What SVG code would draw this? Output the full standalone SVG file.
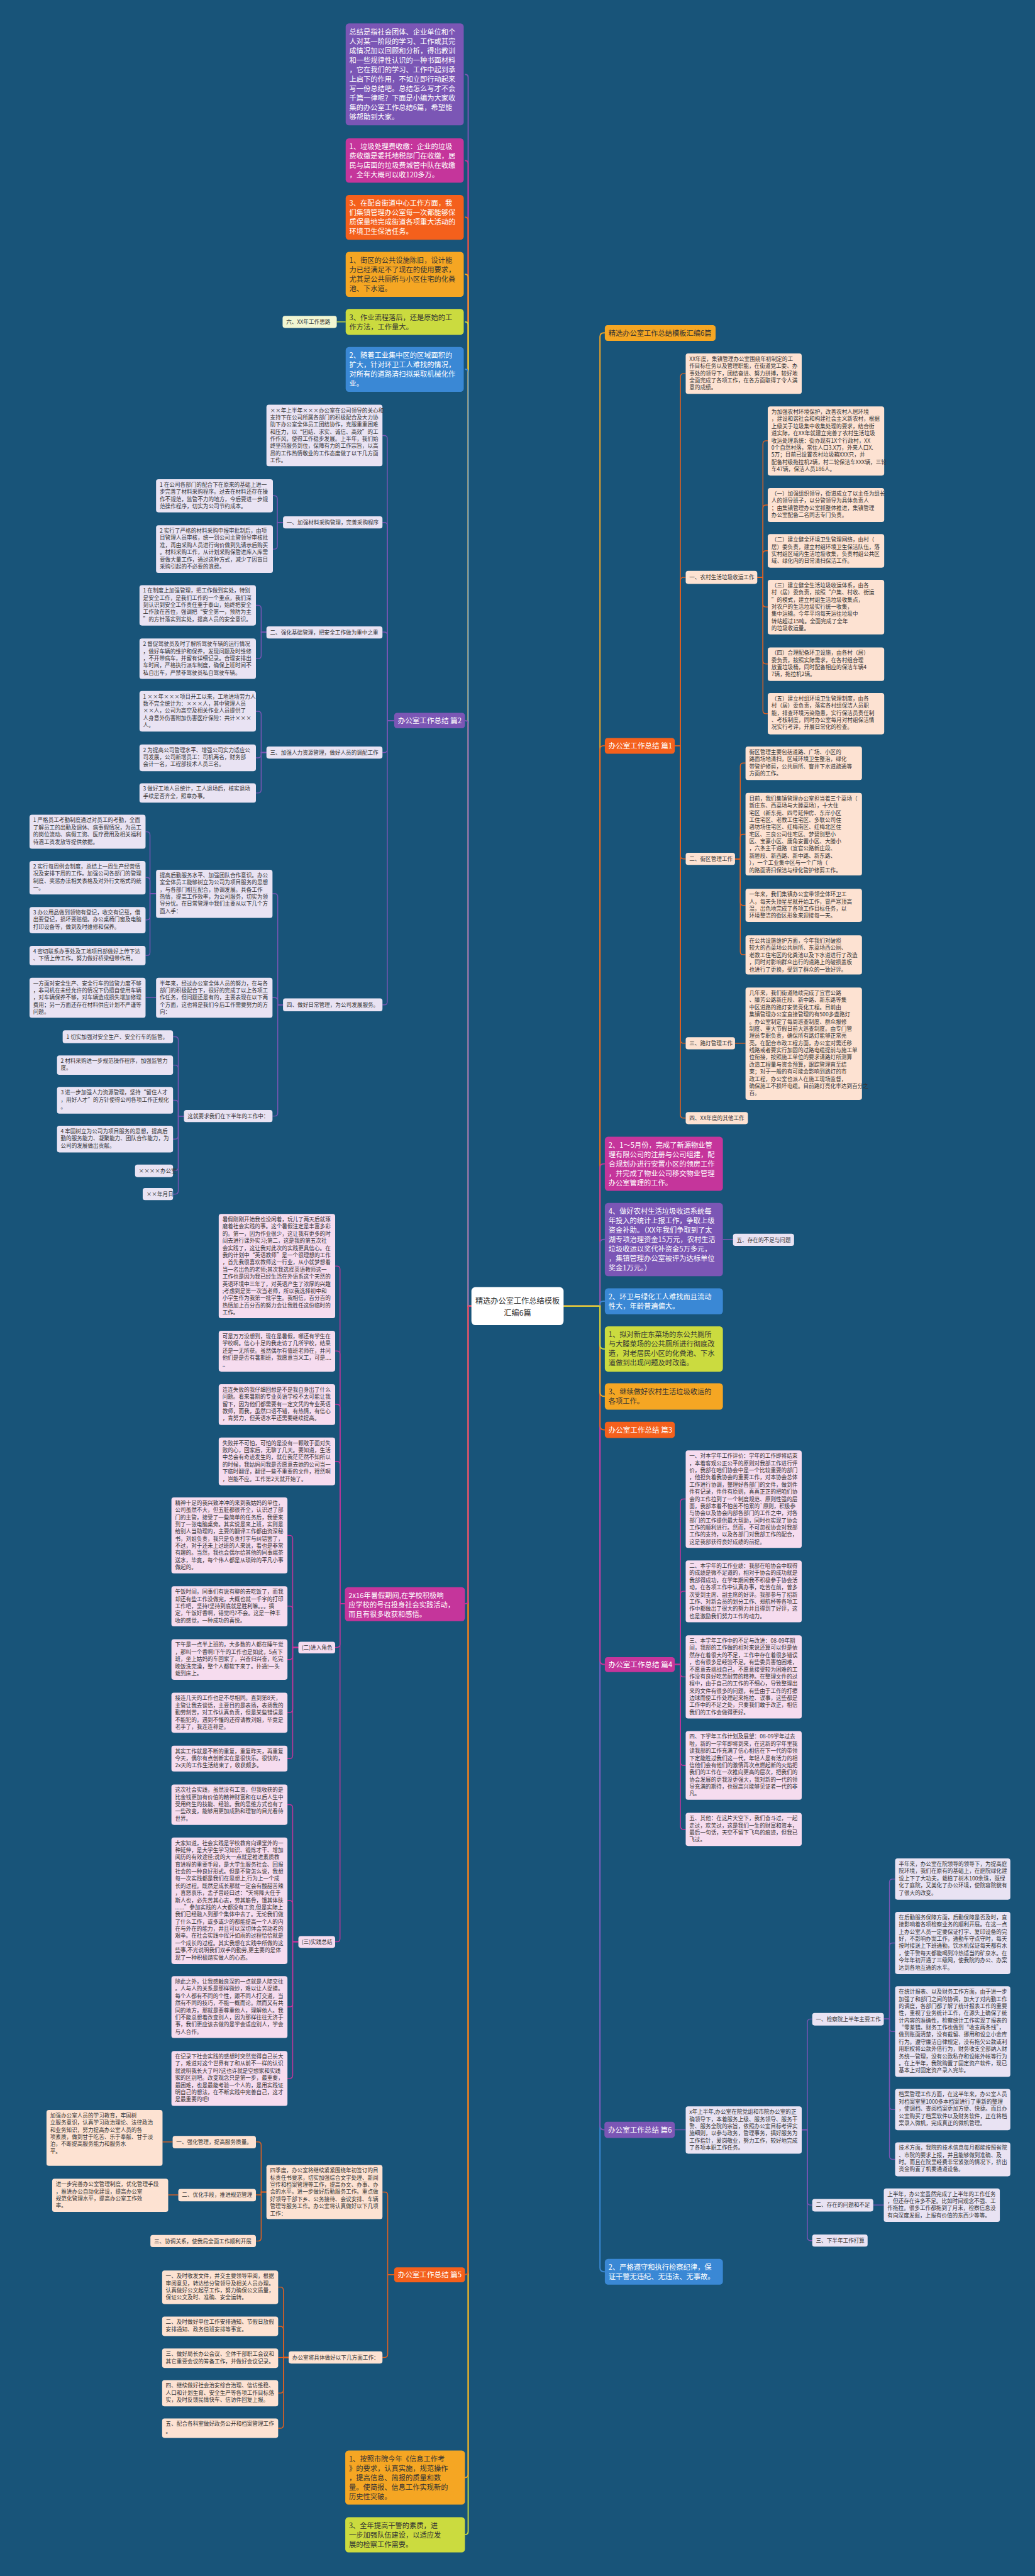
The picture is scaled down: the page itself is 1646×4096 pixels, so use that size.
<svg xmlns="http://www.w3.org/2000/svg" width="1646" height="4096" viewBox="0 0 1646 4096">
<style>
text{font-family:"Noto Sans CJK SC","Noto Sans","Liberation Sans",sans-serif}
.b{font-size:17.5px;fill:#fff}
.bd{font-size:17.5px;fill:#333}
.s{font-size:13.4px;fill:#333}
.h{font-size:18px;fill:#fff}
.r{font-size:19px;fill:#333}
.e{fill:none;stroke-width:2.2}
.E{fill:none;stroke-width:3}
.cp{stroke:#7b56b5}.cm{stroke:#c5359b}.co{stroke:#e8611e}.cy{stroke:#f5a623}.cg{stroke:#c9da3d}.cb{stroke:#3a88d5}
.fp{fill:#7b56b5}.fm{fill:#c5359b}.fo{fill:#f4601c}.fy{fill:#f5a623}.fg{fill:#cbdb3f}.fb{fill:#3a88d5}
.lp{fill:#e9e3f3}.lm{fill:#f6dcef}.lo{fill:#fde2d2}.lg{fill:#f1f6d2}
</style>
<rect width="1646" height="4096" fill="#185479"/>
<g transform="scale(0.64297)">
<g id="connectors">
<path class="E cp" d="M1166 3230H1158V192Q1158 184 1150 184"/>
<path class="E cm" d="M1166 3230H1158V405Q1158 397 1150 397"/>
<path class="E co" d="M1166 3230H1158V545Q1158 537 1150 537"/>
<path class="E cy" d="M1166 3230H1158V686Q1158 678 1150 678"/>
<path class="E cg" d="M1166 3230H1158V804Q1158 796 1150 796"/>
<path class="E cb" d="M1166 3230H1158V921Q1158 913 1150 913"/>
<path class="E cp" d="M1166 3230H1158V1790Q1158 1782 1150 1782"/>
<path class="E cg" d="M1166 3230H1158V6260Q1158 6268 1150 6268"/>
<path class="E cy" d="M1166 3230H1158V6119Q1158 6127 1150 6127"/>
<path class="E co" d="M1166 3230H1158V5617Q1158 5625 1150 5625"/>
<path class="E cm" d="M1166 3230H1158V3958Q1158 3966 1150 3966"/>
<path class="E cy" d="M1394 3230H1484V833Q1484 823 1494 823H1496"/>
<path class="E co" d="M1394 3230H1484V1854Q1484 1844 1494 1844H1496"/>
<path class="E cm" d="M1394 3230H1484V2888Q1484 2878 1494 2878H1496"/>
<path class="E cp" d="M1394 3230H1484V3075Q1484 3065 1494 3065H1496"/>
<path class="E cb" d="M1394 3230H1484V3226Q1484 3218 1492 3218H1496"/>
<path class="E cb" d="M1394 3230H1484V5608Q1484 5618 1494 5618H1496"/>
<path class="E cp" d="M1394 3230H1484V5257Q1484 5267 1494 5267H1496"/>
<path class="E cm" d="M1394 3230H1484V4106Q1484 4116 1494 4116H1496"/>
<path class="E co" d="M1394 3230H1484V3526Q1484 3536 1494 3536H1496"/>
<path class="E cy" d="M1394 3230H1484V3443Q1484 3453 1494 3453H1496"/>
<path class="E cg" d="M1394 3230H1484V3326Q1484 3336 1494 3336H1496"/>
<path class="e cg" d="M855 796H833"/>
<path class="e cp" d="M1788 3065H1813"/>
<g class="e cp">
<path d="M975 1782H958V1085Q958 1077 950 1077H946"/>
<path d="M975 1782H958V1300Q958 1292 950 1292H946"/>
<path d="M975 1782H958V1571Q958 1563 950 1563H946"/>
<path d="M975 1782H958V1853Q958 1861 950 1861H946"/>
<path d="M975 1782H958V2477Q958 2485 950 2485H946"/>
<path d="M700 1292H686V1234Q686 1226 678 1226H675"/>
<path d="M700 1292H686V1350Q686 1358 678 1358H675"/>
<path d="M659 1563H646V1505Q646 1497 638 1497H633"/>
<path d="M659 1563H646V1621Q646 1629 638 1629H633"/>
<path d="M659 1861H646V1767Q646 1759 638 1759H633"/>
<path d="M659 1861H646V1866Q646 1874 638 1874H633"/>
<path d="M659 1861H646V1953Q646 1961 638 1961H633"/>
<path d="M700 2485H687V2218Q687 2210 679 2210H674"/>
<path d="M700 2485H687V2475Q687 2467 679 2467H674"/>
<path d="M700 2485H687V2752Q687 2760 679 2760H674"/>
<path d="M386 2210H371V2065Q371 2057 363 2057H360"/>
<path d="M386 2210H371V2178Q371 2170 363 2170H360"/>
<path d="M386 2210H371V2267Q371 2275 363 2275H360"/>
<path d="M386 2210H371V2355Q371 2363 363 2363H360"/>
<path d="M386 2467H360"/>
<path d="M455 2760H441V2572Q441 2564 433 2564H428"/>
<path d="M455 2760H441V2642Q441 2634 433 2634H428"/>
<path d="M455 2760H441V2729Q441 2721 433 2721H428"/>
<path d="M455 2760H441V2809Q441 2817 433 2817H428"/>
<path d="M455 2760H441V2887Q441 2895 433 2895H428"/>
<path d="M455 2760H441V2945Q441 2953 433 2953H428"/>
</g>
<g class="e cm">
<path d="M853 3966H841V3139Q841 3131 833 3131H829"/>
<path d="M853 3966H841V3349Q841 3341 833 3341H829"/>
<path d="M853 3966H841V3481Q841 3473 833 3473H829"/>
<path d="M853 3966H841V3622Q841 3614 833 3614H829"/>
<path d="M853 3966H841V4066Q841 4074 833 4074H829"/>
<path d="M853 3966H841V4794Q841 4802 833 4802H829"/>
<path d="M738 4074H724V3805Q724 3797 716 3797H711"/>
<path d="M738 4074H724V3980Q724 3972 716 3972H711"/>
<path d="M738 4074H724V4096Q724 4104 716 4104H711"/>
<path d="M738 4074H724V4227Q724 4235 716 4235H711"/>
<path d="M738 4074H724V4341Q724 4349 716 4349H711"/>
<path d="M738 4802H724V4471Q724 4463 716 4463H711"/>
<path d="M738 4802H724V4708Q724 4700 716 4700H711"/>
<path d="M738 4802H724V4955Q724 4963 716 4963H711"/>
<path d="M738 4802H724V5132Q724 5140 716 5140H711"/>
</g>
<g class="e co">
<path d="M975 5625H959V5429Q959 5421 951 5421H946"/>
<path d="M975 5625H959V5822Q959 5830 951 5830H946"/>
<path d="M659 5421H646V5305Q646 5297 638 5297H633"/>
<path d="M659 5421H646V5428H633"/>
<path d="M659 5421H646V5534Q646 5542 638 5542H633"/>
<path d="M427 5297H402"/>
<path d="M441 5428H416"/>
<path d="M714 5830H701V5664Q701 5656 693 5656H688"/>
<path d="M714 5830H701V5761Q701 5753 693 5753H688"/>
<path d="M714 5830H688"/>
<path d="M714 5830H701V5910Q701 5918 693 5918H688"/>
<path d="M714 5830H701V5997Q701 6005 693 6005H688"/>
</g>
<g class="e co">
<path d="M1669 1844H1683V932Q1683 924 1691 924H1696"/>
<path d="M1669 1844H1683V1436Q1683 1428 1691 1428H1696"/>
<path d="M1669 1844H1683V2116Q1683 2124 1691 2124H1696"/>
<path d="M1669 1844H1683V2572Q1683 2580 1691 2580H1696"/>
<path d="M1669 1844H1683V2757Q1683 2765 1691 2765H1696"/>
<path d="M1873 1428H1887V1098Q1887 1090 1895 1090H1899"/>
<path d="M1873 1428H1887V1257Q1887 1249 1895 1249H1899"/>
<path d="M1873 1428H1887V1370Q1887 1362 1895 1362H1899"/>
<path d="M1873 1428H1887V1493Q1887 1501 1895 1501H1899"/>
<path d="M1873 1428H1887V1634Q1887 1642 1895 1642H1899"/>
<path d="M1873 1428H1887V1757Q1887 1765 1895 1765H1899"/>
<path d="M1818 2124H1831V1895Q1831 1887 1839 1887H1844"/>
<path d="M1818 2124H1831V2071Q1831 2063 1839 2063H1844"/>
<path d="M1818 2124H1831V2231Q1831 2239 1839 2239H1844"/>
<path d="M1818 2124H1831V2353Q1831 2361 1839 2361H1844"/>
<path d="M1818 2580H1844"/>
</g>
<g class="e cm">
<path d="M1669 4116H1683V3715Q1683 3707 1691 3707H1696"/>
<path d="M1669 4116H1683V3943Q1683 3935 1691 3935H1696"/>
<path d="M1669 4116H1683V4139Q1683 4147 1691 4147H1696"/>
<path d="M1669 4116H1683V4358Q1683 4366 1691 4366H1696"/>
<path d="M1669 4116H1683V4516Q1683 4524 1691 4524H1696"/>
</g>
<g class="e cp">
<path d="M1669 5267H1696"/>
<path d="M1983 5267H1997V5001Q1997 4993 2005 4993H2009"/>
<path d="M1983 5267H1997V5445Q1997 5453 2005 5453H2009"/>
<path d="M1983 5267H1997V5533Q1997 5541 2005 5541H2009"/>
<path d="M2186 4993H2200V4655Q2200 4647 2208 4647H2214"/>
<path d="M2186 4993H2200V4813Q2200 4805 2208 4805H2214"/>
<path d="M2186 4993H2200V5016Q2200 5024 2208 5024H2214"/>
<path d="M2186 4993H2200V5209Q2200 5217 2208 5217H2214"/>
<path d="M2186 4993H2200V5332Q2200 5340 2208 5340H2214"/>
<path d="M2160 5453H2186"/>
</g>
</g>

<g id="root"><rect x="1166" y="3183" width="228" height="94" rx="10" fill="#fff"/>
<text class="r" text-anchor="middle"><tspan x="1280" y="3224">精选办公室工作总结模板</tspan><tspan x="1280" y="3253">汇编6篇</tspan></text></g>

<g id="L1"><rect class="fp" x="855" y="58" width="292" height="252" rx="8"/>
<text class="b"><tspan x="864" y="85">总结是指社会团体、企业单位和个</tspan><tspan x="864" dy="23.4">人对某一阶段的学习、工作或其完</tspan><tspan x="864" dy="23.4">成情况加以回顾和分析，得出教训</tspan><tspan x="864" dy="23.4">和一些规律性认识的一种书面材料</tspan><tspan x="864" dy="23.4">，它在我们的学习、工作中起到承</tspan><tspan x="864" dy="23.4">上启下的作用，不如立即行动起来</tspan><tspan x="864" dy="23.4">写一份总结吧。总结怎么写才不会</tspan><tspan x="864" dy="23.4">千篇一律呢？下面是小编为大家收</tspan><tspan x="864" dy="23.4">集的办公室工作总结6篇，希望能</tspan><tspan x="864" dy="23.4">够帮助到大家。</tspan></text></g>
<g id="L2"><rect class="fm" x="855" y="342" width="292" height="110" rx="8"/>
<text class="b"><tspan x="864" y="369">1、垃圾处理费收缴：企业的垃圾</tspan><tspan x="864" dy="23.4">费收缴是委托地税部门在收缴，居</tspan><tspan x="864" dy="23.4">民与店面的垃圾费城管中队在收缴</tspan><tspan x="864" dy="23.4">，全年大概可以收120多万。</tspan></text></g>
<g id="L3"><rect class="fo" x="855" y="482" width="292" height="111" rx="8"/>
<text class="b"><tspan x="864" y="509">3、在配合街道中心工作方面，我</tspan><tspan x="864" dy="23.4">们集镇管理办公室每一次都能够保</tspan><tspan x="864" dy="23.4">质保量地完成街道各项重大活动的</tspan><tspan x="864" dy="23.4">环境卫生保洁任务。</tspan></text></g>
<g id="L4"><rect class="fy" x="855" y="623" width="292" height="111" rx="8"/>
<text class="bd"><tspan x="864" y="650">1、街区的公共设施陈旧，设计能</tspan><tspan x="864" dy="23.4">力已经满足不了现在的使用要求，</tspan><tspan x="864" dy="23.4">尤其是公共厕所与小区住宅的化粪</tspan><tspan x="864" dy="23.4">池、下水道。</tspan></text></g>
<g id="L5"><rect class="fg" x="855" y="764" width="292" height="64" rx="8"/>
<text class="bd"><tspan x="864" y="791">3、作业流程落后，还是原始的工</tspan><tspan x="864" dy="23.4">作方法，工作量大。</tspan></text></g>
<g id="L5c"><rect class="lg" x="699" y="781" width="134" height="30" rx="6"/>
<text class="s"><tspan x="708" y="801">六、XX年工作思路</tspan></text></g>
<g id="L6"><rect class="fb" x="855" y="858" width="292" height="111" rx="8"/>
<text class="b"><tspan x="864" y="885">2、随着工业集中区的区域面积的</tspan><tspan x="864" dy="23.4">扩大，针对环卫工人难找的情况，</tspan><tspan x="864" dy="23.4">对所有的道路清扫拟采取机械化作</tspan><tspan x="864" dy="23.4">业。</tspan></text></g>

<g id="p2"><rect class="fp" x="975" y="1763" width="175" height="38" rx="7"/>
<text class="h"><tspan x="984" y="1789">办公室工作总结 篇2</tspan></text></g>
<g id="p2a"><rect class="lp" x="659" y="1001" width="287" height="152" rx="6"/>
<text class="s"><tspan x="668" y="1019.5">××年上半年×××办公室在公司领导的关心和</tspan><tspan x="668" dy="17.7">支持下在公司所属各部门的积极配合及大力协</tspan><tspan x="668" dy="17.7">助下办公室全体员工团结协作，克服重重困难</tspan><tspan x="668" dy="17.7">和压力，以“团结、求实、诚信、高效”的工</tspan><tspan x="668" dy="17.7">作作风，使得工作稳步发展。上半年，我们始</tspan><tspan x="668" dy="17.7">终坚持服务到位，保障有力的工作宗旨，以高</tspan><tspan x="668" dy="17.7">昂的工作热情敬业的工作态度做了以下几方面</tspan><tspan x="668" dy="17.7">工作。</tspan></text></g>
<g id="p2-1"><rect class="lp" x="700" y="1277" width="246" height="30" rx="6"/>
<text class="s"><tspan x="709" y="1297">一、加强材料采购管理，完善采购程序</tspan></text></g>
<g id="p2-1a"><rect class="lp" x="386" y="1185" width="289" height="82" rx="6"/>
<text class="s"><tspan x="395" y="1203.5">1 在公司各部门的配合下在原来的基础上进一</tspan><tspan x="395" dy="17.7">步完善了材料采购程序。过去在材料还存在操</tspan><tspan x="395" dy="17.7">作不规范，监管不力的地方，今后要进一步规</tspan><tspan x="395" dy="17.7">范操作程序，切实为公司节约成本。</tspan></text></g>
<g id="p2-1b"><rect class="lp" x="386" y="1299" width="289" height="118" rx="6"/>
<text class="s"><tspan x="395" y="1317.5">2 实行了严格的材料采购申报审批制后，由项</tspan><tspan x="395" dy="17.7">目管理人员审核，统一到公司主管领导审核批</tspan><tspan x="395" dy="17.7">准，再由采购人员进行询价做到先请示后购买</tspan><tspan x="395" dy="17.7">。材料采购工作，从计划采购保管进库入库需</tspan><tspan x="395" dy="17.7">要做大量工作，通过这种方式，减少了因盲目</tspan><tspan x="395" dy="17.7">采购引起的不必要的浪费。</tspan></text></g>
<g id="p2-2"><rect class="lp" x="659" y="1549" width="287" height="30" rx="6"/>
<text class="s"><tspan x="668" y="1569">二、强化基础管理，把安全工作做为重中之重</tspan></text></g>
<g id="p2-2a"><rect class="lp" x="345" y="1447" width="288" height="100" rx="6"/>
<text class="s"><tspan x="354" y="1465.5">1 在制度上加强管理，把工作做到实处，特别</tspan><tspan x="354" dy="17.7">是安全工作，是我们工作的一个重点，我们深</tspan><tspan x="354" dy="17.7">刻认识到安全工作责任重于泰山，始终把安全</tspan><tspan x="354" dy="17.7">工作放在首位，强调把“安全第一，预防为主</tspan><tspan x="354" dy="17.7">”的方针落实到实处，提高人员的安全意识。</tspan></text></g>
<g id="p2-2b"><rect class="lp" x="345" y="1579" width="288" height="100" rx="6"/>
<text class="s"><tspan x="354" y="1597.5">2 督促驾驶员及时了解所驾驶车辆的运行情况</tspan><tspan x="354" dy="17.7">，做好车辆的维护和保养，发现问题及时维修</tspan><tspan x="354" dy="17.7">，不开带病车，并留有详细记录。合理安排出</tspan><tspan x="354" dy="17.7">车时间，严格执行派车制度，确保上班时间不</tspan><tspan x="354" dy="17.7">私自出车，严禁非驾驶员私自驾驶车辆。</tspan></text></g>
<g id="p2-3"><rect class="lp" x="659" y="1846" width="287" height="30" rx="6"/>
<text class="s"><tspan x="668" y="1866">三、加强人力资源管理，做好人员的调配工作</tspan></text></g>
<g id="p2-3a"><rect class="lp" x="345" y="1709" width="288" height="100" rx="6"/>
<text class="s"><tspan x="354" y="1727.5">1 ××年×××项目开工以来，工地进场劳力人</tspan><tspan x="354" dy="17.7">数不完全统计为：×××人，其中管理人员</tspan><tspan x="354" dy="17.7">××人，公司为高空及相关作业人员提供了</tspan><tspan x="354" dy="17.7">人身意外伤害附加伤害医疗保险：共计×××</tspan><tspan x="354" dy="17.7">人。</tspan></text></g>
<g id="p2-3b"><rect class="lp" x="345" y="1841" width="288" height="66" rx="6"/>
<text class="s"><tspan x="354" y="1859.5">2 为提高公司管理水平、增强公司实力适应公</tspan><tspan x="354" dy="17.7">司发展，公司新增员工：司机两名，财务部</tspan><tspan x="354" dy="17.7">会计一名，工程部技术人员三名。</tspan></text></g>
<g id="p2-3c"><rect class="lp" x="345" y="1937" width="288" height="48" rx="6"/>
<text class="s"><tspan x="354" y="1955.5">3 做好工地人员统计，工人退场后，核实退场</tspan><tspan x="354" dy="17.7">手续是否齐全，照章办事。</tspan></text></g>
<g id="p2-4"><rect class="lp" x="700" y="2469" width="246" height="32" rx="6"/>
<text class="s"><tspan x="709" y="2490">四、做好日常管理，为公司发展服务。</tspan></text></g>
<g id="p2-4a"><rect class="lp" x="386" y="2151" width="288" height="119" rx="6"/>
<text class="s"><tspan x="395" y="2169.5">提高后勤服务水平、加强团队合作意识。办公</tspan><tspan x="395" dy="17.7">室全体员工能够树立为公司为项目服务的思想</tspan><tspan x="395" dy="17.7">，与各部门相互配合，协调发展。具备工作</tspan><tspan x="395" dy="17.7">热情，提高工作效率，为公司服务，切实为领</tspan><tspan x="395" dy="17.7">导分忧。在日常管理中我们主要从以下几个方</tspan><tspan x="395" dy="17.7">面入手：</tspan></text></g>
<g id="p2-4a1"><rect class="lp" x="73" y="2015" width="287" height="84" rx="6"/>
<text class="s"><tspan x="82" y="2033.5">1 严格员工考勤制度通过对员工的考勤，全面</tspan><tspan x="82" dy="17.7">了解员工的出勤及调休、病事假情况，为员工</tspan><tspan x="82" dy="17.7">的岗位流动、病假工资、医疗费用及相关福利</tspan><tspan x="82" dy="17.7">待遇工资发放等提供依据。</tspan></text></g>
<g id="p2-4a2"><rect class="lp" x="73" y="2129" width="287" height="83" rx="6"/>
<text class="s"><tspan x="82" y="2147.5">2 实行每周例会制度，总结上一周生产经营情</tspan><tspan x="82" dy="17.7">况及安排下周的工作。加强公司各部门的管理</tspan><tspan x="82" dy="17.7">制度、奖惩办法相关表格及对外行文格式的统</tspan><tspan x="82" dy="17.7">一。</tspan></text></g>
<g id="p2-4a3"><rect class="lp" x="73" y="2243" width="287" height="65" rx="6"/>
<text class="s"><tspan x="82" y="2261.5">3 办公用品做到领物有登记，收交有记载，借</tspan><tspan x="82" dy="17.7">出要登记，损坏要赔偿。办公桌椅门窗及电脑</tspan><tspan x="82" dy="17.7">打印设备等，做到及时维修和保养。</tspan></text></g>
<g id="p2-4a4"><rect class="lp" x="73" y="2339" width="287" height="48" rx="6"/>
<text class="s"><tspan x="82" y="2357.5">4 密切联系办事处及工地项目部做好上传下达</tspan><tspan x="82" dy="17.7">、下情上传工作。努力做好桥梁纽带作用。</tspan></text></g>
<g id="p2-4b"><rect class="lp" x="386" y="2418" width="288" height="99" rx="6"/>
<text class="s"><tspan x="395" y="2436.5">半年来，经过办公室全体人员的努力，在与各</tspan><tspan x="395" dy="17.7">部门的积极配合下，很好的完成了以上各项工</tspan><tspan x="395" dy="17.7">作任务，但问题还是有的，主要表现在以下两</tspan><tspan x="395" dy="17.7">个方面，这也将是我们今后工作需要努力的方</tspan><tspan x="395" dy="17.7">向：</tspan></text></g>
<g id="p2-4b1"><rect class="lp" x="73" y="2418" width="287" height="99" rx="6"/>
<text class="s"><tspan x="82" y="2436.5">一方面对安全生产、安全行车的监管力度不够</tspan><tspan x="82" dy="17.7">，非司机在未经允许的情况下仍擅自使用车辆</tspan><tspan x="82" dy="17.7">，对车辆保养不够，对车辆造成损失增加修理</tspan><tspan x="82" dy="17.7">费用；另一方面还存在材料供应计划不严谨等</tspan><tspan x="82" dy="17.7">问题。</tspan></text></g>
<g id="p2-4c"><rect class="lp" x="455" y="2745" width="219" height="30" rx="6"/>
<text class="s"><tspan x="464" y="2765">这就要求我们在下半年的工作中：</tspan></text></g>
<g id="p2-4c1"><rect class="lp" x="155" y="2548" width="273" height="32" rx="6"/>
<text class="s"><tspan x="164" y="2569">1 切实加强对安全生产、安全行车的监管。</tspan></text></g>
<g id="p2-4c2"><rect class="lp" x="141" y="2610" width="287" height="48" rx="6"/>
<text class="s"><tspan x="150" y="2628.5">2 材料采购进一步规范操作程序，加强监管力</tspan><tspan x="150" dy="17.7">度。</tspan></text></g>
<g id="p2-4c3"><rect class="lp" x="141" y="2688" width="287" height="66" rx="6"/>
<text class="s"><tspan x="150" y="2706.5">3 进一步加强人力资源管理，坚持“留住人才</tspan><tspan x="150" dy="17.7">，用好人才”的方针使得公司各项工作正规化</tspan><tspan x="150" dy="17.7">。</tspan></text></g>
<g id="p2-4c4"><rect class="lp" x="141" y="2784" width="287" height="66" rx="6"/>
<text class="s"><tspan x="150" y="2802.5">4 牢固树立为公司为项目服务的思想，提高后</tspan><tspan x="150" dy="17.7">勤的服务能力、凝聚能力、团队合作能力，为</tspan><tspan x="150" dy="17.7">公司的发展做出贡献。</tspan></text></g>
<g id="p2-4c5"><rect class="lp" x="334" y="2880" width="94" height="31" rx="6"/>
<text class="s"><tspan x="343" y="2900">××××办公室</tspan></text></g>
<g id="p2-4c6"><rect class="lp" x="353" y="2938" width="75" height="30" rx="6"/>
<text class="s"><tspan x="362" y="2958">××年月日</tspan></text></g>

<g id="sj"><rect class="fm" x="853" y="3925" width="297" height="84" rx="8"/>
<text class="b"><tspan x="862" y="3952">2x16年暑假期间,在学校积极响</tspan><tspan x="862" dy="23.4">应学校的号召投身社会实践活动，</tspan><tspan x="862" dy="23.4">而且有很多收获和感悟。</tspan></text></g>
<g id="sj1"><rect class="lm" x="541" y="3002" width="288" height="258" rx="6"/>
<text class="s"><tspan x="550" y="3020.5">暑假刚刚开始我也没闲着，玩儿了两天后就琢</tspan><tspan x="550" dy="17.7">磨着社会实践的事。这个暑假注定是丰富多彩</tspan><tspan x="550" dy="17.7">的。第一，因为作业很少，这让我有更多的时</tspan><tspan x="550" dy="17.7">间去进行课外实习;第二，这是我的第五次社</tspan><tspan x="550" dy="17.7">会实践了，这让我对此次的实践更具信心。在</tspan><tspan x="550" dy="17.7">我的计划中“英语教师”是一个很理想的工作</tspan><tspan x="550" dy="17.7">，首先我很喜欢教师这一行业，从小就梦想着</tspan><tspan x="550" dy="17.7">当一名出色的老师;其次我选择英语教师这一</tspan><tspan x="550" dy="17.7">工作也是因为我已经生活在外语系这个天然的</tspan><tspan x="550" dy="17.7">英语环境中三年了，对英语产生了浓厚的兴趣</tspan><tspan x="550" dy="17.7">;考虑到是第一次当老师，所以我选择初中和</tspan><tspan x="550" dy="17.7">小学生作为我第一批学生。我相信，百分百的</tspan><tspan x="550" dy="17.7">热情加上百分百的努力会让我胜任这份临时的</tspan><tspan x="550" dy="17.7">工作。</tspan></text></g>
<g id="sj2"><rect class="lm" x="541" y="3291" width="288" height="101" rx="6"/>
<text class="s"><tspan x="550" y="3309.5">可是万万没想到，现在是暑假，哪还有学生在</tspan><tspan x="550" dy="17.7">学校啊。信心十足的我走访了几所学校，结果</tspan><tspan x="550" dy="17.7">还是一无所获。虽然偶尔有值班老师在，并问</tspan><tspan x="550" dy="17.7">他们是是否有暑期班，我愿意当义工，可是....</tspan><tspan x="550" dy="17.7">..</tspan></text></g>
<g id="sj3"><rect class="lm" x="541" y="3423" width="288" height="101" rx="6"/>
<text class="s"><tspan x="550" y="3441.5">连连失败的我仔细回想是不是我自身出了什么</tspan><tspan x="550" dy="17.7">问题。看来暑期的专业英语学校不太可能让我</tspan><tspan x="550" dy="17.7">留下，因为他们都需要有一定文凭的专业英语</tspan><tspan x="550" dy="17.7">教师，而我，虽然口语不错，有热情，有信心</tspan><tspan x="550" dy="17.7">，肯努力，但英语水平还需要继续提高。</tspan></text></g>
<g id="sj4"><rect class="lm" x="541" y="3555" width="288" height="118" rx="6"/>
<text class="s"><tspan x="550" y="3573.5">失败并不可怕，可怕的是没有一颗敢于面对失</tspan><tspan x="550" dy="17.7">败的心，回家后，无聊了几天。要知道，生活</tspan><tspan x="550" dy="17.7">中总会有奇迹发生的，就在我茫茫然不知所以</tspan><tspan x="550" dy="17.7">的时候，我姑妈问我是否愿意去她的公司当一</tspan><tspan x="550" dy="17.7">下临时翻译，翻译一些不重要的文件，释然啊</tspan><tspan x="550" dy="17.7">，岂能不应。工作第2天就开始了。</tspan></text></g>
<g id="sj5"><rect class="lm" x="738" y="4060" width="91" height="29" rx="6"/>
<text class="s"><tspan x="746" y="4079">(二)进入角色</tspan></text></g>
<g id="sj5a"><rect class="lm" x="424" y="3703" width="287" height="188" rx="6"/>
<text class="s"><tspan x="433" y="3721.5">精神十足的我兴致冲冲的来到我姑妈的单位，</tspan><tspan x="433" dy="17.7">公司虽然不大，但五脏都很齐全，认识过了部</tspan><tspan x="433" dy="17.7">门的主管，接受了一些简单的任务后，我便来</tspan><tspan x="433" dy="17.7">到了一张电脑桌旁。其实说是来上班，实则是</tspan><tspan x="433" dy="17.7">给别人当助理的，主要的翻译工作都由资深秘</tspan><tspan x="433" dy="17.7">书，刘姐负责，我只是负责打字与纠错罢了，</tspan><tspan x="433" dy="17.7">不过，对于还未上过班的人来说，着也是非常</tspan><tspan x="433" dy="17.7">有趣的。当然，我也会偶尔给其他的同事端茶</tspan><tspan x="433" dy="17.7">送水，毕竟，每个伟人都是从琐碎的平凡小事</tspan><tspan x="433" dy="17.7">做起的。</tspan></text></g>
<g id="sj5b"><rect class="lm" x="424" y="3923" width="287" height="99" rx="6"/>
<text class="s"><tspan x="433" y="3941.5">午饭时间，同事们有说有聊的去吃饭了，而我</tspan><tspan x="433" dy="17.7">却还有些工作没做完，大概也就一千字的打印</tspan><tspan x="433" dy="17.7">工作吧，坚持!坚持到底就是胜利嘛。。。搞</tspan><tspan x="433" dy="17.7">定，午饭好香啊，错觉吗?不会。这是一种丰</tspan><tspan x="433" dy="17.7">收的感觉，一种成功的喜悦。</tspan></text></g>
<g id="sj5c"><rect class="lm" x="424" y="4054" width="287" height="100" rx="6"/>
<text class="s"><tspan x="433" y="4072.5">下午是一点半上班的，大多数的人都在睡午觉</tspan><tspan x="433" dy="17.7">，那叫一个香啊!下午的工作也是如此，5点下</tspan><tspan x="433" dy="17.7">班，坐上姑妈的车回家了，兴奋归兴奋，吃完</tspan><tspan x="433" dy="17.7">晚饭洗完澡，整个人都软下来了。扑通!一头</tspan><tspan x="433" dy="17.7">栽到床上。</tspan></text></g>
<g id="sj5d"><rect class="lm" x="424" y="4186" width="287" height="99" rx="6"/>
<text class="s"><tspan x="433" y="4204.5">接连几天的工作也是不尽相同。直到第8天，</tspan><tspan x="433" dy="17.7">主管让我去谈话，主要目的是表扬，表扬我的</tspan><tspan x="433" dy="17.7">勤劳刻苦，对工作认真负责，但是某些错误是</tspan><tspan x="433" dy="17.7">不能犯的，遇到不懂的还得请教刘姐，毕竟是</tspan><tspan x="433" dy="17.7">老手了，我连连称是。</tspan></text></g>
<g id="sj5e"><rect class="lm" x="424" y="4317" width="287" height="64" rx="6"/>
<text class="s"><tspan x="433" y="4335.5">其实工作就是不断的重复，重复昨天，再重复</tspan><tspan x="433" dy="17.7">今天，偶尔有点创新实在是很快乐。很快的，</tspan><tspan x="433" dy="17.7">2x天的工作生活结束了，收获颇多。</tspan></text></g>
<g id="sj6"><rect class="lm" x="738" y="4788" width="91" height="29" rx="6"/>
<text class="s"><tspan x="746" y="4807">(三)实践总结</tspan></text></g>
<g id="sj6a"><rect class="lm" x="424" y="4413" width="287" height="100" rx="6"/>
<text class="s"><tspan x="433" y="4431.5">这次社会实践，虽然没有工资，但我收获的是</tspan><tspan x="433" dy="17.7">比金钱更加有价值的精神财富和在以后人生中</tspan><tspan x="433" dy="17.7">受用终生的技能、经验。我的思维方式也有了</tspan><tspan x="433" dy="17.7">一些改变，能够用更加成熟和理智的目光看待</tspan><tspan x="433" dy="17.7">世界。</tspan></text></g>
<g id="sj6b"><rect class="lm" x="424" y="4544" width="287" height="313" rx="6"/>
<text class="s"><tspan x="433" y="4562.5">大家知道，社会实践是学校教育向课堂外的一</tspan><tspan x="433" dy="17.7">种延伸，是大学生学习知识、锻炼才干、增加</tspan><tspan x="433" dy="17.7">阅历的有效途径;说的大一点就是推进素质教</tspan><tspan x="433" dy="17.7">育进程的重要手段，是大学生服务社会、回报</tspan><tspan x="433" dy="17.7">社会的一种良好形式。但是不管怎么说，我想</tspan><tspan x="433" dy="17.7">每一次实践都是我们在思想上,行为上一个成</tspan><tspan x="433" dy="17.7">长的过程。既然是成长那就一定会有酸甜苦辣</tspan><tspan x="433" dy="17.7">，喜怒哀乐，孟子曾经曰过：“天将降大任于</tspan><tspan x="433" dy="17.7">斯人也，必先苦其心志，劳其筋骨，饿其体肤</tspan><tspan x="433" dy="17.7">......”参加实践的人大都没有工资,但是实际上</tspan><tspan x="433" dy="17.7">我们已经融入到那个集体中去了。无论我们做</tspan><tspan x="433" dy="17.7">了什么工作，或多或少的都能提高一个人的内</tspan><tspan x="433" dy="17.7">在与外在的能力，并且可以深切体会劳动者的</tspan><tspan x="433" dy="17.7">艰辛。在社会实践中挥汗如雨的过程恰恰就是</tspan><tspan x="433" dy="17.7">一个成长的过程。其实我想在实践中所做的这</tspan><tspan x="433" dy="17.7">些事,不光说明我们双手的勤劳,更主要的是体</tspan><tspan x="433" dy="17.7">现了一种积极踏实做人的心态。</tspan></text></g>
<g id="sj6c"><rect class="lm" x="424" y="4887" width="287" height="153" rx="6"/>
<text class="s"><tspan x="433" y="4905.5">除此之外，让我感触良深的一点就是人际交往</tspan><tspan x="433" dy="17.7">。人与人的关系是那样微妙，难以让人捉摸。</tspan><tspan x="433" dy="17.7">每个人都有不同的个性，跟不同人打交道，当</tspan><tspan x="433" dy="17.7">然有不同的技巧，不能一概而论。然而又有共</tspan><tspan x="433" dy="17.7">同的地方，那就是要尊重他人，理解他人。我</tspan><tspan x="433" dy="17.7">们不能总想着改变别人，因为那样往往无济于</tspan><tspan x="433" dy="17.7">事，我们更应该去做的是学会适应别人，学会</tspan><tspan x="433" dy="17.7">与人合作。</tspan></text></g>
<g id="sj6d"><rect class="lm" x="424" y="5072" width="287" height="136" rx="6"/>
<text class="s"><tspan x="433" y="5090.5">在记录下社会实践的感想时突然觉得自己长大</tspan><tspan x="433" dy="17.7">了，难道对这个世界有了和从前不一样的认识</tspan><tspan x="433" dy="17.7">就说明我长大了吗?这也许就是空想家和实践</tspan><tspan x="433" dy="17.7">家的区别吧。改变观念只是第一步，最重要，</tspan><tspan x="433" dy="17.7">最困难，也是最能考验一个人的，是用实践证</tspan><tspan x="433" dy="17.7">明自己的想法，在不断实践中完善自己，这才</tspan><tspan x="433" dy="17.7">是最重要的吧!</tspan></text></g>

<g id="p5"><rect class="fo" x="975" y="5607" width="175" height="37" rx="7"/>
<text class="h"><tspan x="984" y="5632">办公室工作总结 篇5</tspan></text></g>
<g id="p5a"><rect class="lo" x="659" y="5354" width="287" height="134" rx="6"/>
<text class="s"><tspan x="668" y="5372.5">四季度，办公室将继续紧紧围绕年初签订的目</tspan><tspan x="668" dy="17.7">标责任书要求，切实加强综合文字处理、新闻</tspan><tspan x="668" dy="17.7">宣传和档案管理等工作，提高办文、办事、办</tspan><tspan x="668" dy="17.7">会的水平。进一步做好后勤服务工作。重点做</tspan><tspan x="668" dy="17.7">好领导干部下乡、公务接待、会议安排、车辆</tspan><tspan x="668" dy="17.7">管理等服务工作。办公室将认真做好以下几项</tspan><tspan x="668" dy="17.7">工作：</tspan></text></g>
<g id="p5a1"><rect class="lo" x="427" y="5282" width="206" height="31" rx="6"/>
<text class="s"><tspan x="436" y="5302">一、强化管理，提高服务质量。</tspan></text></g>
<g id="p5a1c"><rect class="lo" x="115" y="5218" width="287" height="138" rx="6"/>
<text class="s"><tspan x="124" y="5236.5">加强办公室人员的学习教育，牢固树</tspan><tspan x="124" dy="17.7">立服务意识，认真学习政治理论、法律政治</tspan><tspan x="124" dy="17.7">和业务知识，努力提高办公室人员的各</tspan><tspan x="124" dy="17.7">项素质，做到甘于吃苦、乐于奉献、甘于淡</tspan><tspan x="124" dy="17.7">泊，不断提高服务能力和服务水</tspan><tspan x="124" dy="17.7">平。</tspan></text></g>
<g id="p5a2"><rect class="lo" x="441" y="5413" width="192" height="31" rx="6"/>
<text class="s"><tspan x="450" y="5433">二、优化手段，推进规范管理</tspan></text></g>
<g id="p5a2c"><rect class="lo" x="129" y="5388" width="287" height="82" rx="6"/>
<text class="s"><tspan x="138" y="5406.5">进一步完善办公室管理制度，优化管理手段</tspan><tspan x="138" dy="17.7">，推进办公自动化建设，提高办公室</tspan><tspan x="138" dy="17.7">规范化管理水平，提高办公室工作效</tspan><tspan x="138" dy="17.7">率。</tspan></text></g>
<g id="p5a3"><rect class="lo" x="372" y="5527" width="261" height="30" rx="6"/>
<text class="s"><tspan x="381" y="5547">三、协调关系，使我局全面工作顺利开展</tspan></text></g>
<g id="p5b"><rect class="lo" x="714" y="5815" width="232" height="30" rx="6"/>
<text class="s"><tspan x="723" y="5835">办公室将具体做好以下几方面工作：</tspan></text></g>
<g id="p5b1"><rect class="lo" x="401" y="5615" width="287" height="83" rx="6"/>
<text class="s"><tspan x="410" y="5633.5">一、及时收发文件，并交主要领导审阅，根据</tspan><tspan x="410" dy="17.7">审阅意见，转达给分管领导及相关人员办理。</tspan><tspan x="410" dy="17.7">认真做好公文起草工作，努力确保公文质量，</tspan><tspan x="410" dy="17.7">保证公文及时、准确、安全运转。</tspan></text></g>
<g id="p5b2"><rect class="lo" x="401" y="5729" width="287" height="48" rx="6"/>
<text class="s"><tspan x="410" y="5747.5">二、及时做好单位工作安排通知、节假日放假</tspan><tspan x="410" dy="17.7">安排通知、政务值班安排等事宜。</tspan></text></g>
<g id="p5b3"><rect class="lo" x="401" y="5808" width="287" height="48" rx="6"/>
<text class="s"><tspan x="410" y="5826.5">三、做好局长办公会议、全体干部职工会议和</tspan><tspan x="410" dy="17.7">其它重要会议的筹备工作，并做好会议记录。</tspan></text></g>
<g id="p5b4"><rect class="lo" x="401" y="5886" width="287" height="65" rx="6"/>
<text class="s"><tspan x="410" y="5904.5">四、继续做好社会治安综合治理、信访维稳、</tspan><tspan x="410" dy="17.7">人口和计划生育、安全生产等各项工作目标落</tspan><tspan x="410" dy="17.7">实，及时反馈民情快车、信访件回复上报。</tspan></text></g>
<g id="p5b5"><rect class="lo" x="401" y="5981" width="287" height="48" rx="6"/>
<text class="s"><tspan x="410" y="5999.5">五、配合各科室做好政务公开和档案管理工作</tspan><tspan x="410" dy="17.7">。</tspan></text></g>
<g id="L10"><rect class="fy" x="854" y="6060" width="296" height="134" rx="8"/>
<text class="bd"><tspan x="863" y="6087">1、按照市院今年《信息工作考</tspan><tspan x="863" dy="23.4">》的要求，认真实施，规范操作</tspan><tspan x="863" dy="23.4">，提高信息、简报的质量和数</tspan><tspan x="863" dy="23.4">量。使简报、信息工作实现新的</tspan><tspan x="863" dy="23.4">历史性突破。</tspan></text></g>
<g id="L11"><rect class="fg" x="854" y="6225" width="296" height="87" rx="8"/>
<text class="bd"><tspan x="863" y="6252">3、全年提高干警的素质，进</tspan><tspan x="863" dy="23.4">一步加强队伍建设，以适应发</tspan><tspan x="863" dy="23.4">展的检察工作需要。</tspan></text></g>

<g id="R1"><rect class="fy" x="1496" y="804" width="274" height="39" rx="7"/>
<text class="bd"><tspan x="1505" y="830">精选办公室工作总结模板汇编6篇</tspan></text></g>
<g id="p1"><rect class="fo" x="1496" y="1825" width="173" height="39" rx="7"/>
<text class="h"><tspan x="1505" y="1851">办公室工作总结 篇1</tspan></text></g>
<g id="p1a"><rect class="lo" x="1696" y="874" width="287" height="100" rx="6"/>
<text class="s"><tspan x="1705" y="892.5">XX年度，集镇管理办公室围绕年初制定的工</tspan><tspan x="1705" dy="17.7">作目标任务以及管理职能，在街道党工委、办</tspan><tspan x="1705" dy="17.7">事处的领导下，团结奋进、努力拼搏，较好地</tspan><tspan x="1705" dy="17.7">全面完成了各项工作，在各方面取得了令人满</tspan><tspan x="1705" dy="17.7">意的成绩。</tspan></text></g>
<g id="p1b"><rect class="lo" x="1696" y="1412" width="177" height="32" rx="6"/>
<text class="s"><tspan x="1705" y="1433">一、农村生活垃圾收运工作</tspan></text></g>
<g id="p1b1"><rect class="lo" x="1899" y="1005" width="288" height="171" rx="6"/>
<text class="s"><tspan x="1908" y="1023.5">为加强农村环境保护，改善农村人居环境</tspan><tspan x="1908" dy="17.7">，建设和谐社会和构建社会主义新农村，根据</tspan><tspan x="1908" dy="17.7">上级关于垃圾集中收集处理的要求，结合街</tspan><tspan x="1908" dy="17.7">道实际，在XX年就建立完善了农村生活垃圾</tspan><tspan x="1908" dy="17.7">收运处理系统：街办现有1X个行政村，XX</tspan><tspan x="1908" dy="17.7">0个自然村落，常住人口3.X万，外来人口X.</tspan><tspan x="1908" dy="17.7">5万；目前已设置农村垃圾箱XXX只，并</tspan><tspan x="1908" dy="17.7">配备村级拖拉机2辆，村二轮保洁车XXX辆，三轮</tspan><tspan x="1908" dy="17.7">车47辆，保洁人员186人。</tspan></text></g>
<g id="p1b2"><rect class="lo" x="1899" y="1207" width="288" height="84" rx="6"/>
<text class="s"><tspan x="1908" y="1225.5">（一）加强组织领导，街道成立了以主任为组长</tspan><tspan x="1908" dy="17.7">人的领导班子，以分管领导为具体负责人</tspan><tspan x="1908" dy="17.7">；由集镇管理办公室抓整体推进，集镇管理</tspan><tspan x="1908" dy="17.7">办公室配备二名同志专门负责。</tspan></text></g>
<g id="p1b3"><rect class="lo" x="1899" y="1321" width="288" height="83" rx="6"/>
<text class="s"><tspan x="1908" y="1339.5">（二）建立健全环境卫生管理网络，由村（</tspan><tspan x="1908" dy="17.7">居）委负责，建立村组环境卫生保洁队伍，落</tspan><tspan x="1908" dy="17.7">实村组区域内生活垃圾收集，负责村组公共区</tspan><tspan x="1908" dy="17.7">域、绿化内的日常清扫保洁工作。</tspan></text></g>
<g id="p1b4"><rect class="lo" x="1899" y="1434" width="288" height="135" rx="6"/>
<text class="s"><tspan x="1908" y="1452.5">（三）建立健全生活垃圾收运体系，由各</tspan><tspan x="1908" dy="17.7">村（居）委负责，按照“户集、村收、街运</tspan><tspan x="1908" dy="17.7">”的模式，建立村组生活垃圾收集点，</tspan><tspan x="1908" dy="17.7">对农户的生活垃圾实行统一收集，</tspan><tspan x="1908" dy="17.7">集中运输。今年平均每天运往垃圾中</tspan><tspan x="1908" dy="17.7">转站超过15吨。全面完成了全年</tspan><tspan x="1908" dy="17.7">的垃圾收运量。</tspan></text></g>
<g id="p1b5"><rect class="lo" x="1899" y="1601" width="288" height="83" rx="6"/>
<text class="s"><tspan x="1908" y="1619.5">（四）合理配备环卫设施，由各村（居）</tspan><tspan x="1908" dy="17.7">委负责，按照实际需求，在各村组合理</tspan><tspan x="1908" dy="17.7">放置垃圾桶，同时配备相应的保洁车辆4</tspan><tspan x="1908" dy="17.7">7辆，拖拉机2辆。</tspan></text></g>
<g id="p1b6"><rect class="lo" x="1899" y="1714" width="288" height="102" rx="6"/>
<text class="s"><tspan x="1908" y="1732.5">（五）建立村组环境卫生管理制度，由各</tspan><tspan x="1908" dy="17.7">村（居）委负责，落实各村组保洁人员职</tspan><tspan x="1908" dy="17.7">能，排查环境污染隐患，实行保洁员责任制</tspan><tspan x="1908" dy="17.7">、考核制度，同时办公室每月对村组保洁情</tspan><tspan x="1908" dy="17.7">况实行考评，开展日常化的检查。</tspan></text></g>
<g id="p1c"><rect class="lo" x="1696" y="2109" width="122" height="30" rx="6"/>
<text class="s"><tspan x="1705" y="2129">二、街区管理工作</tspan></text></g>
<g id="p1c1"><rect class="lo" x="1844" y="1846" width="288" height="83" rx="6"/>
<text class="s"><tspan x="1853" y="1864.5">街区管理主要包括道路、广场、小区的</tspan><tspan x="1853" dy="17.7">路面场地清扫，区域环境卫生整治，绿化</tspan><tspan x="1853" dy="17.7">带管护修剪，公共厕所、窨井下水道疏通等</tspan><tspan x="1853" dy="17.7">方面的工作。</tspan></text></g>
<g id="p1c2"><rect class="lo" x="1844" y="1961" width="288" height="204" rx="6"/>
<text class="s"><tspan x="1853" y="1979.5">目前，我们集镇管理办公室担当着三个菜场（</tspan><tspan x="1853" dy="17.7">新庄东、西菜场与大塍菜场），十大住</tspan><tspan x="1853" dy="17.7">宅区（新东苑、四号延伸房、东岸小区</tspan><tspan x="1853" dy="17.7">工住宅区、老教工住宅区、多联公司住</tspan><tspan x="1853" dy="17.7">砻坊场住宅区、红梅南区、红梅北区住</tspan><tspan x="1853" dy="17.7">宅区、三良公司住宅区、梦碧别墅小</tspan><tspan x="1853" dy="17.7">区、宝豪小区、唐角安置小区、大塍小</tspan><tspan x="1853" dy="17.7">，六条主干道路（宜官公路新庄段、</tspan><tspan x="1853" dy="17.7">新塍段、新西路、新中路、新东路、</tspan><tspan x="1853" dy="17.7">），一个工业集中区与一个广场（</tspan><tspan x="1853" dy="17.7">的路面清扫保洁与绿化管护修剪工作。</tspan></text></g>
<g id="p1c3"><rect class="lo" x="1844" y="2198" width="288" height="82" rx="6"/>
<text class="s"><tspan x="1853" y="2216.5">一年来，我们集镇办公室带领全体环卫工</tspan><tspan x="1853" dy="17.7">人，每天头顶星星就开始工作，冒严寒顶高</tspan><tspan x="1853" dy="17.7">温，出色地完成了各项工作目标任务，以</tspan><tspan x="1853" dy="17.7">环境整洁的街区形象来迎接每一天。</tspan></text></g>
<g id="p1c4"><rect class="lo" x="1844" y="2313" width="288" height="97" rx="6"/>
<text class="s"><tspan x="1853" y="2331.5">在公共设施维护方面，今年我们对破损</tspan><tspan x="1853" dy="17.7">较大的西菜场公共厕所、东菜场西公厕、</tspan><tspan x="1853" dy="17.7">老教工住宅区的化粪池以及下水道进行了改造</tspan><tspan x="1853" dy="17.7">，同时对影响群众出行的道路上的破损盖板</tspan><tspan x="1853" dy="17.7">也进行了更换，受到了群众的一致好评。</tspan></text></g>
<g id="p1d"><rect class="lo" x="1696" y="2565" width="122" height="30" rx="6"/>
<text class="s"><tspan x="1705" y="2585">三、路灯管理工作</tspan></text></g>
<g id="p1d1"><rect class="lo" x="1844" y="2442" width="288" height="278" rx="6"/>
<text class="s"><tspan x="1853" y="2460.5">几年来，我们街道陆续完成了宜官公路</tspan><tspan x="1853" dy="17.7">、滕芳公路新庄段、新中路、新东路等集</tspan><tspan x="1853" dy="17.7">中区道路的路灯安装亮化工程。目前由</tspan><tspan x="1853" dy="17.7">集镇管理办公室直接管理的有500多盏路灯</tspan><tspan x="1853" dy="17.7">。办公室制定了每周巡查制度、群众报修</tspan><tspan x="1853" dy="17.7">制度、重大节假日前大巡查制度。由专门管</tspan><tspan x="1853" dy="17.7">理员专职负责，确保所有路灯能够正常亮</tspan><tspan x="1853" dy="17.7">亮。在配合市政工程方面，办公室对需迁移</tspan><tspan x="1853" dy="17.7">线路或者要实行加固的过路电缆提前与施工单</tspan><tspan x="1853" dy="17.7">位衔接，按照施工单位的要求请路灯所测算</tspan><tspan x="1853" dy="17.7">改造工程量与资金预算，跟踪管理直至结</tspan><tspan x="1853" dy="17.7">束；对于一般的有可能会影响到路灯的市</tspan><tspan x="1853" dy="17.7">政工程，办公室也派人在施工现场监督，</tspan><tspan x="1853" dy="17.7">确保施工不损坏电缆。目前路灯亮化率达到百分之</tspan><tspan x="1853" dy="17.7">百。</tspan></text></g>
<g id="p1e"><rect class="lo" x="1696" y="2750" width="154" height="30" rx="6"/>
<text class="s"><tspan x="1705" y="2770">四、XX年度的其他工作</tspan></text></g>

<g id="R3"><rect class="fm" x="1496" y="2811" width="292" height="134" rx="8"/>
<text class="b"><tspan x="1505" y="2838">2、1～5月份，完成了新源物业管</tspan><tspan x="1505" dy="23.4">理有限公司的注册与公司组建，配</tspan><tspan x="1505" dy="23.4">合规划办进行安置小区的领房工作</tspan><tspan x="1505" dy="23.4">，并完成了物业公司移交物业管理</tspan><tspan x="1505" dy="23.4">办公室管理的工作。</tspan></text></g>
<g id="R4"><rect class="fp" x="1496" y="2975" width="292" height="181" rx="8"/>
<text class="b"><tspan x="1505" y="3002">4、做好农村生活垃圾收运系统每</tspan><tspan x="1505" dy="23.4">年投入的统计上报工作，争取上级</tspan><tspan x="1505" dy="23.4">资金补助。（XX年我们争取到了太</tspan><tspan x="1505" dy="23.4">湖专项治理资金15万元，农村生活</tspan><tspan x="1505" dy="23.4">垃圾收运以奖代补资金5万多元，</tspan><tspan x="1505" dy="23.4">，集镇管理办公室被评为达标单位</tspan><tspan x="1505" dy="23.4">奖金1万元。）</tspan></text></g>
<g id="R4c"><rect class="lp" x="1813" y="3051" width="151" height="30" rx="6"/>
<text class="s"><tspan x="1822" y="3071">五、存在的不足与问题</tspan></text></g>
<g id="R5"><rect class="fb" x="1496" y="3186" width="292" height="64" rx="8"/>
<text class="b"><tspan x="1505" y="3213">2、环卫与绿化工人难找而且流动</tspan><tspan x="1505" dy="23.4">性大，年龄普遍偏大。</tspan></text></g>
<g id="R6"><rect class="fg" x="1496" y="3280" width="292" height="112" rx="8"/>
<text class="bd"><tspan x="1505" y="3307">1、拟对新庄东菜场的东公共厕所</tspan><tspan x="1505" dy="23.4">与大塍菜场的公共厕所进行彻底改</tspan><tspan x="1505" dy="23.4">造，对老居民小区的化粪池、下水</tspan><tspan x="1505" dy="23.4">道做到出现问题及时改造。</tspan></text></g>
<g id="R7"><rect class="fy" x="1496" y="3421" width="292" height="65" rx="8"/>
<text class="bd"><tspan x="1505" y="3448">3、继续做好农村生活垃圾收运的</tspan><tspan x="1505" dy="23.4">各项工作。</tspan></text></g>
<g id="p3"><rect class="fo" x="1496" y="3516" width="173" height="40" rx="7"/>
<text class="h"><tspan x="1505" y="3543">办公室工作总结 篇3</tspan></text></g>

<g id="p4"><rect class="fm" x="1496" y="4098" width="173" height="37" rx="7"/>
<text class="h"><tspan x="1505" y="4123">办公室工作总结 篇4</tspan></text></g>
<g id="p4a"><rect class="lm" x="1696" y="3587" width="287" height="241" rx="6"/>
<text class="s"><tspan x="1705" y="3605.5">一、对本学年工作评价：学年的工作即将结束</tspan><tspan x="1705" dy="17.7">，本着客观公正公平的原则对我部工作进行评</tspan><tspan x="1705" dy="17.7">价，我部在咱们协会中是一个比较重要的部门</tspan><tspan x="1705" dy="17.7">，他担负着我协会的重要工作，对本协会总体</tspan><tspan x="1705" dy="17.7">工作进行协调，整理好各部门的文件，做到件</tspan><tspan x="1705" dy="17.7">件有记录，件件有原则，真真正正的把咱们协</tspan><tspan x="1705" dy="17.7">会的工作拉到了一个制度规范、原则性强的层</tspan><tspan x="1705" dy="17.7">面，我部本着不怕苦不怕累的`原则，积极参</tspan><tspan x="1705" dy="17.7">与协会以及协会内部各部门的工作之中，对各</tspan><tspan x="1705" dy="17.7">部门的工作提供最大帮助，同时也实现了协会</tspan><tspan x="1705" dy="17.7">工作的顺利进行。然而，不可忽视协会对我部</tspan><tspan x="1705" dy="17.7">工作的支持，以及各部门对我部工作的配合，</tspan><tspan x="1705" dy="17.7">这是我部获得良好成绩的前提。</tspan></text></g>
<g id="p4b"><rect class="lm" x="1696" y="3859" width="287" height="153" rx="6"/>
<text class="s"><tspan x="1705" y="3877.5">二、本学年的工作业绩：我部在咱协会中取得</tspan><tspan x="1705" dy="17.7">的成绩是微不足道的，相对于协会的成功就是</tspan><tspan x="1705" dy="17.7">我部得成功，在学年期间我不积极参于协会活</tspan><tspan x="1705" dy="17.7">动，在各项工作中认真办事，吃苦在前，曾多</tspan><tspan x="1705" dy="17.7">次受到主席、副主席的好评。我部参与了招新</tspan><tspan x="1705" dy="17.7">工作、对新会员的划分工作、郑航杯等各项工</tspan><tspan x="1705" dy="17.7">作中都做出了很大的努力并且得到了好评，这</tspan><tspan x="1705" dy="17.7">也是激励我们努力工作的动力。</tspan></text></g>
<g id="p4c"><rect class="lm" x="1696" y="4044" width="287" height="206" rx="6"/>
<text class="s"><tspan x="1705" y="4062.5">三、本学年工作中的不足与改进：08-09年期</tspan><tspan x="1705" dy="17.7">间，我部的工作做的相对来说还算可以但是依</tspan><tspan x="1705" dy="17.7">然存在着很大的不足，工作中存在着很多错误</tspan><tspan x="1705" dy="17.7">，也有很多是经验不足。有些委员害怕困难，</tspan><tspan x="1705" dy="17.7">不愿意去挑战自己，不愿意接受较为困难的工</tspan><tspan x="1705" dy="17.7">作没有良好吃苦耐劳的精神。在整理文件的过</tspan><tspan x="1705" dy="17.7">程中，由于自己的工作的不细心，导致整理出</tspan><tspan x="1705" dy="17.7">来的文件有很多的问题，有些由于工作的打擦</tspan><tspan x="1705" dy="17.7">边球而使工作处理起来拖拉、误事，这些都是</tspan><tspan x="1705" dy="17.7">工作中的不足之处，只要我们敢于改正，相信</tspan><tspan x="1705" dy="17.7">我们的工作会做得更好。</tspan></text></g>
<g id="p4d"><rect class="lm" x="1696" y="4281" width="287" height="170" rx="6"/>
<text class="s"><tspan x="1705" y="4299.5">四、下学年工作计划及展望：08-09学年过去</tspan><tspan x="1705" dy="17.7">啦，新的一学年即将到来，在这新的学年里我</tspan><tspan x="1705" dy="17.7">读我部的工作充满了信心相信在下一代的带领</tspan><tspan x="1705" dy="17.7">下定能胜过我们这一代，年轻人是有活力的相</tspan><tspan x="1705" dy="17.7">信他们会有他们的激情再次点燃起新的火焰把</tspan><tspan x="1705" dy="17.7">我们的工作在一次推向更高的层次，把我们的</tspan><tspan x="1705" dy="17.7">协会发展的更我没更强大，我对新的一代的领</tspan><tspan x="1705" dy="17.7">导充满的期待，也很高兴能够见证者一代的非</tspan><tspan x="1705" dy="17.7">凡。</tspan></text></g>
<g id="p4e"><rect class="lm" x="1696" y="4483" width="287" height="82" rx="6"/>
<text class="s"><tspan x="1705" y="4501.5">五、其他：在这片天空下，我们奋斗过，一起</tspan><tspan x="1705" dy="17.7">走过，欢笑过，这是我们一生的财富和资本，</tspan><tspan x="1705" dy="17.7">最后一句话，天空不留下飞鸟的痕迹，但我已</tspan><tspan x="1705" dy="17.7">飞过。</tspan></text></g>

<g id="p6"><rect class="fp" x="1495" y="5247" width="174" height="40" rx="7"/>
<text class="h"><tspan x="1504" y="5274">办公室工作总结 篇6</tspan></text></g>
<g id="p6a"><rect class="lp" x="1696" y="5209" width="287" height="117" rx="6"/>
<text class="s"><tspan x="1705" y="5227.5">x年上半年,办公室在院党组和市院办公室的正</tspan><tspan x="1705" dy="17.7">确领导下，本着服务上级、服务领导、服务干</tspan><tspan x="1705" dy="17.7">警、服务全院的宗旨，依照办公室目标考评实</tspan><tspan x="1705" dy="17.7">施细则，以参与政务，管理事务，搞好服务为</tspan><tspan x="1705" dy="17.7">工作指针，爱岗敬业，努力工作，较好地完成</tspan><tspan x="1705" dy="17.7">了各项本职工作任务。</tspan></text></g>
<g id="p6b"><rect class="lp" x="2009" y="4978" width="177" height="31" rx="6"/>
<text class="s"><tspan x="2018" y="4998">一、检察院上半年主要工作</tspan></text></g>
<g id="p6b1"><rect class="lp" x="2214" y="4596" width="285" height="102" rx="6"/>
<text class="s"><tspan x="2223" y="4614.5">半年来，办公室在院领导的领导下，为提高庭</tspan><tspan x="2223" dy="17.7">院环境，我们在原有的基础上，在庭院绿化建</tspan><tspan x="2223" dy="17.7">设上下了大功夫，栽植了树木100余珠，既绿</tspan><tspan x="2223" dy="17.7">化了庭院，又美化了办公环境，使院容院貌有</tspan><tspan x="2223" dy="17.7">了很大的改变。</tspan></text></g>
<g id="p6b2"><rect class="lp" x="2214" y="4728" width="285" height="154" rx="6"/>
<text class="s"><tspan x="2223" y="4746.5">在后勤服务保障方面，后勤保障是否及时，直</tspan><tspan x="2223" dy="17.7">接影响着各项检察业务的顺利开展。在这一点</tspan><tspan x="2223" dy="17.7">上办公室人员一定要保证打字、复印设备的完</tspan><tspan x="2223" dy="17.7">好，不影响办案工作，通勤车守点守时，每天</tspan><tspan x="2223" dy="17.7">按时接送上下班通勤，饮水机保证每天都有水</tspan><tspan x="2223" dy="17.7">，使干警每天都能喝到冷热适当的矿泉水。在</tspan><tspan x="2223" dy="17.7">今年年初开通了三级网，使我院的办公、办案</tspan><tspan x="2223" dy="17.7">达到各地互通的水平。</tspan></text></g>
<g id="p6b3"><rect class="lp" x="2214" y="4912" width="285" height="224" rx="6"/>
<text class="s"><tspan x="2223" y="4930.5">在统计报表、以及财务工作方面，由于进一步</tspan><tspan x="2223" dy="17.7">加强了和部门之间的协调，加大了对内勤工作</tspan><tspan x="2223" dy="17.7">的调度，各部门都了解了统计报表工作的重要</tspan><tspan x="2223" dy="17.7">性，重视了业务统计工作，在源头上确保了统</tspan><tspan x="2223" dy="17.7">计内容的准确性，检察统计工作实现了报表的</tspan><tspan x="2223" dy="17.7">“零差错。财务工作也做到“收支两条线”，</tspan><tspan x="2223" dy="17.7">做到账面清楚，没有截留、挪用和设立小金库</tspan><tspan x="2223" dy="17.7">行为。遵守廉洁自律规定，没有拖欠公款或利</tspan><tspan x="2223" dy="17.7">用职权将公款外借行为，财务收支全部纳入财</tspan><tspan x="2223" dy="17.7">务统一管理，没有公款私存和设帐外帐等行为</tspan><tspan x="2223" dy="17.7">。在上半年，我院购置了固定资产软件，现已</tspan><tspan x="2223" dy="17.7">基本上对固定资产录入完毕。</tspan></text></g>
<g id="p6b4"><rect class="lp" x="2214" y="5166" width="285" height="102" rx="6"/>
<text class="s"><tspan x="2223" y="5184.5">档案管理工作方面，在这半年来，办公室人员</tspan><tspan x="2223" dy="17.7">对档案室里1000多本档案进行了重新的整理</tspan><tspan x="2223" dy="17.7">，使调档、查阅档案更加方便、快捷。而且办</tspan><tspan x="2223" dy="17.7">公室购买了档案软件以及财务软件，正在将档</tspan><tspan x="2223" dy="17.7">案录入微机，完成真正的微机管理。</tspan></text></g>
<g id="p6b5"><rect class="lp" x="2214" y="5298" width="285" height="84" rx="6"/>
<text class="s"><tspan x="2223" y="5316.5">技术方面，我院的技术信息每月都能按照省院</tspan><tspan x="2223" dy="17.7">、市院的要求上报，并且能够做到准确、及</tspan><tspan x="2223" dy="17.7">时。而且在院里经费非常紧张的情况下，挤出</tspan><tspan x="2223" dy="17.7">资金购置了机要通道设备。</tspan></text></g>
<g id="p6c"><rect class="lp" x="2009" y="5438" width="151" height="31" rx="6"/>
<text class="s"><tspan x="2018" y="5458">二、存在的问题和不足</tspan></text></g>
<g id="p6c1"><rect class="lp" x="2186" y="5412" width="287" height="83" rx="6"/>
<text class="s"><tspan x="2195" y="5430.5">上半年，办公室虽然完成了上半年的工作任务</tspan><tspan x="2195" dy="17.7">，但还存在许多不足。比如时间观念不强、工</tspan><tspan x="2195" dy="17.7">作拖拉。很多工作都拖到了月末，检察信息没</tspan><tspan x="2195" dy="17.7">有向深度发掘，上报有价值的东西少等等。</tspan></text></g>
<g id="p6d"><rect class="lp" x="2009" y="5526" width="137" height="30" rx="6"/>
<text class="s"><tspan x="2018" y="5546">三、下半年工作打算</tspan></text></g>
<g id="R11"><rect class="fb" x="1496" y="5586" width="292" height="64" rx="8"/>
<text class="b"><tspan x="1505" y="5613">2、严格遵守和执行检察纪律，保</tspan><tspan x="1505" dy="23.4">证干警无违纪、无违法、无事故。</tspan></text></g>
</g>
</svg>
